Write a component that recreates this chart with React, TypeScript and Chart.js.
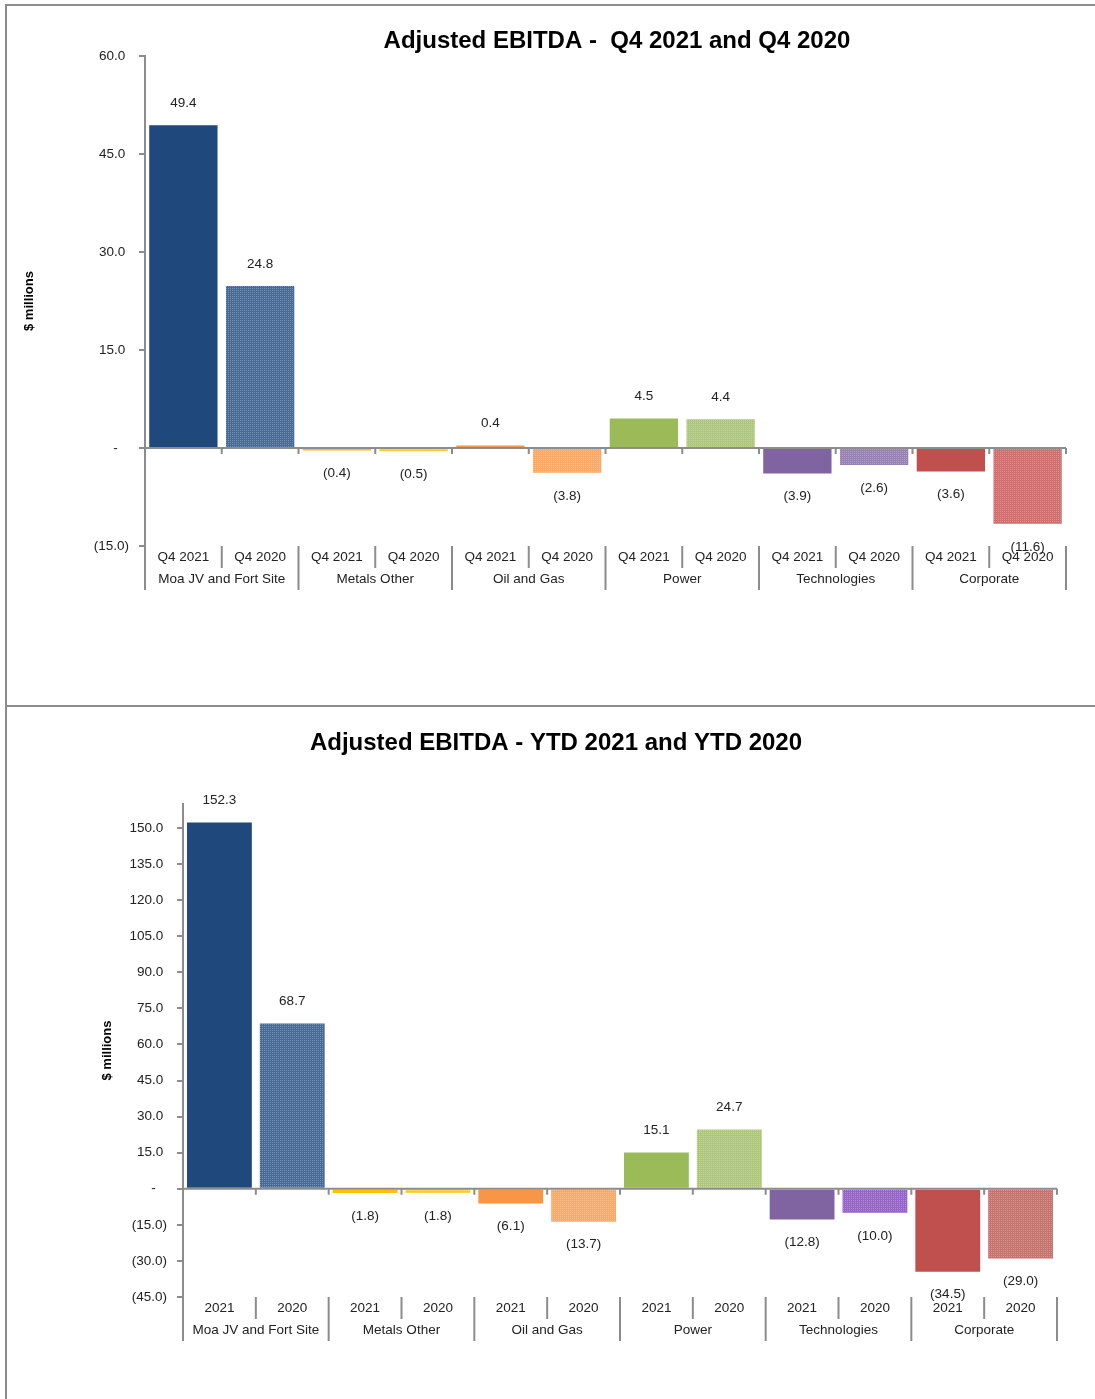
import React, { useEffect, useRef } from 'react';
import { Chart, registerables } from 'chart.js';

Chart.register(...registerables);

const FONT = "'Liberation Sans', Arial, sans-serif";

// ---- data ----
const groups = ['Moa JV and Fort Site', 'Metals Other', 'Oil and Gas', 'Power', 'Technologies', 'Corporate'];
const q4SubLabels = ['Q4 2021', 'Q4 2020'];
const ytdSubLabels = ['2021', '2020'];
const q4Values2021 = [49.4, -0.4, 0.4, 4.5, -3.9, -3.6];
const q4Values2020 = [24.8, -0.5, -3.8, 4.4, -2.6, -11.6];
const ytdValues2021 = [152.3, -1.8, -6.1, 15.1, -12.8, -34.5];
const ytdValues2020 = [68.7, -1.8, -13.7, 24.7, -10.0, -29.0];
const q4YTicks = [-15, 0, 15, 30, 45, 60];
const ytdYTicks = [-45, -30, -15, 0, 15, 30, 45, 60, 75, 90, 105, 120, 135, 150];
const solidColors = ['#1F497D', '#FFC000', '#F79646', '#9BBB59', '#8064A2', '#C0504D'];
const q4PatternColors = ['#1F497D', '#FFC000', '#F79646', '#9BBB59', '#8064A2', '#C0504D'];
const ytdPatternColors = ['#1F497D', '#FFC000', '#F79646', '#9BBB59', '#7F3FBF', '#C0504D'];

const AXIS = '#8C8C8C';
const TEXT = '#222222';

function lighten(hex: string, t: number) {
  const h = hex.replace('#', '');
  const c = [0, 2, 4].map((k) => parseInt(h.slice(k, k + 2), 16));
  const m = c.map((v) => Math.round(v + (255 - v) * t));
  return `rgb(${m[0]}, ${m[1]}, ${m[2]})`;
}

function fmt(v: number) {
  if (v < 0) return '(' + Math.abs(v).toFixed(1) + ')';
  return v.toFixed(1);
}

type Spec = {
  title: string;
  titleX: number;
  titleY: number;
  sub: string[];
  v2021: number[];
  v2020: number[];
  patternColors: string[];
  yTicks: number[];
  yMin: number;
  yMax: number;
  yAxisWidth: number;
  yTitlePad: number;
  padding: { top: number; right: number; bottom: number; left: number };
};

function buildChart(canvas: HTMLCanvasElement, spec: Spec) {
  const labels: string[] = [];
  const data: number[] = [];
  const colors: string[] = [];
  const dotColors: (string | null)[] = [];
  spec.v2021.forEach((v, i) => {
    labels.push(spec.sub[0]);
    data.push(v);
    colors.push(solidColors[i]);
    dotColors.push(null);
    labels.push(spec.sub[1]);
    data.push(spec.v2020[i]);
    colors.push(lighten(spec.patternColors[i], 0.18));
    dotColors.push(lighten(spec.patternColors[i], 0.4));
  });

  const decor = {
    id: 'decor',
    afterDatasetsDraw(chart: any) {
      const { ctx, chartArea, scales } = chart;
      const xs = scales.x;
      const ys = scales.y;
      const meta = chart.getDatasetMeta(0);

      // subtle dotted texture on the 2020 bars
      meta.data.forEach((el: any, i: number) => {
        const dc = dotColors[i];
        if (!dc) return;
        const p = el.getProps(['x', 'y', 'base', 'width'], true);
        const l = Math.ceil(p.x - p.width / 2);
        const r = Math.floor(p.x + p.width / 2);
        const t = Math.ceil(Math.min(p.y, p.base));
        const b = Math.floor(Math.max(p.y, p.base));
        ctx.save();
        ctx.fillStyle = dc;
        ctx.beginPath();
        for (let yy = t; yy < b; yy += 2) {
          for (let xx = l; xx < r; xx += 2) {
            ctx.rect(xx, yy, 1, 1);
          }
        }
        ctx.fill();
        ctx.restore();
      });

      const y0 = ys.getPixelForValue(0);
      const w = xs.getPixelForValue(1) - xs.getPixelForValue(0);
      const n = data.length;
      const bound = (i: number) => xs.getPixelForValue(0) - w / 2 + i * w;
      ctx.save();
      ctx.strokeStyle = AXIS;
      ctx.lineWidth = 2;
      ctx.beginPath();
      ctx.moveTo(chartArea.left, y0);
      ctx.lineTo(chartArea.right, y0);
      for (let i = 0; i <= n; i++) {
        const x = bound(i);
        ctx.moveTo(x, y0);
        ctx.lineTo(x, y0 + 6);
      }
      for (let i = 0; i <= n; i++) {
        const x = bound(i);
        const len = i % 2 === 0 ? 44 : 22;
        ctx.moveTo(x, chartArea.bottom);
        ctx.lineTo(x, chartArea.bottom + len);
      }
      ctx.stroke();

      ctx.fillStyle = TEXT;
      ctx.font = `13.5px ${FONT}`;
      ctx.textAlign = 'center';
      ctx.textBaseline = 'middle';
      groups.forEach((g, gi) => {
        const cx = (bound(gi * 2) + bound(gi * 2 + 2)) / 2;
        ctx.fillText(g, cx, chartArea.bottom + 33);
      });

      meta.data.forEach((el: any, i: number) => {
        const v = data[i];
        const y = v >= 0 ? el.y - 22 : el.y + 23;
        ctx.fillText(fmt(v), el.x, y);
      });

      ctx.fillStyle = '#000';
      ctx.font = `bold 24px ${FONT}`;
      ctx.fillText(spec.title, spec.titleX, spec.titleY);
      ctx.restore();
    },
  };

  return new Chart(canvas, {
    type: 'bar',
    data: {
      labels,
      datasets: [
        {
          data,
          backgroundColor: colors,
          borderWidth: 0,
          barPercentage: 0.89,
          categoryPercentage: 1,
        },
      ],
    },
    options: {
      responsive: false,
      animation: false,
      devicePixelRatio: 1,
      layout: { padding: spec.padding },
      plugins: {
        legend: { display: false },
        tooltip: { enabled: false },
        title: { display: false },
      },
      scales: {
        x: {
          type: 'category',
          grid: { display: false, drawTicks: false },
          border: { display: false },
          ticks: {
            autoSkip: false,
            maxRotation: 0,
            minRotation: 0,
            padding: 3,
            color: TEXT,
            font: { family: FONT, size: 13.5 },
          },
          afterFit: (scale: any) => {
            scale.height = 100;
          },
        },
        y: {
          min: spec.yMin,
          max: spec.yMax,
          grid: {
            drawOnChartArea: false,
            drawTicks: true,
            tickLength: 6,
            color: AXIS,
            lineWidth: 2,
          },
          border: { display: true, color: AXIS, width: 2 },
          ticks: {
            padding: 10,
            color: TEXT,
            font: { family: FONT, size: 13.5 },
            callback: (v: any) => {
              const n = Number(v);
              if (n === 0) return '-   ';
              if (n < 0) return fmt(n);
              return n.toFixed(1) + ' ';
            },
          },
          afterBuildTicks: (scale: any) => {
            scale.ticks = spec.yTicks.map((v) => ({ value: v }));
          },
          afterFit: (scale: any) => {
            scale.width = spec.yAxisWidth;
          },
          title: {
            display: true,
            text: '$ millions',
            color: '#000',
            font: { family: FONT, size: 13, weight: 'bold' },
            padding: { top: spec.yTitlePad, bottom: 0 },
          },
        },
      },
    },
    plugins: [decor],
  } as any);
}

const q4Spec: Spec = {
  title: 'Adjusted EBITDA -  Q4 2021 and Q4 2020',
  titleX: 617,
  titleY: 41,
  sub: q4SubLabels,
  v2021: q4Values2021,
  v2020: q4Values2020,
  patternColors: q4PatternColors,
  yTicks: q4YTicks,
  yMin: -15,
  yMax: 60,
  yAxisWidth: 145,
  yTitlePad: 22,
  padding: { top: 56, right: 29, bottom: 59, left: 0 },
};

const ytdSpec: Spec = {
  title: 'Adjusted EBITDA - YTD 2021 and YTD 2020',
  titleX: 556,
  titleY: 36,
  sub: ytdSubLabels,
  v2021: ytdValues2021,
  v2020: ytdValues2020,
  patternColors: ytdPatternColors,
  yTicks: ytdYTicks,
  yMin: -45,
  yMax: 160,
  yAxisWidth: 183,
  yTitlePad: 100,
  padding: { top: 97, right: 38, bottom: 2, left: 0 },
};

function ChartCanvas({ spec, top, height }: { spec: Spec; top: number; height: number }) {
  const ref = useRef<HTMLCanvasElement>(null);
  useEffect(() => {
    if (!ref.current) return;
    const chart = buildChart(ref.current, spec);
    return () => chart.destroy();
  }, [spec]);
  return (
    <canvas
      ref={ref}
      width={1095}
      height={height}
      style={{ position: 'absolute', left: 0, top, width: 1095, height, display: 'block' }}
    />
  );
}

export default function App() {
  return (
    <div
      style={{
        position: 'absolute',
        left: 0,
        top: 0,
        width: 1095,
        height: 1399,
        background: '#ffffff',
        overflow: 'hidden',
      }}
    >
      <ChartCanvas spec={q4Spec} top={0} height={705} />
      <ChartCanvas spec={ytdSpec} top={707} height={692} />
      <div style={{ position: 'absolute', left: 5, top: 4, width: 1090, height: 2, background: AXIS }} />
      <div style={{ position: 'absolute', left: 5, top: 4, width: 2, height: 1395, background: AXIS }} />
      <div style={{ position: 'absolute', left: 5, top: 705, width: 1090, height: 2, background: AXIS }} />
    </div>
  );
}
